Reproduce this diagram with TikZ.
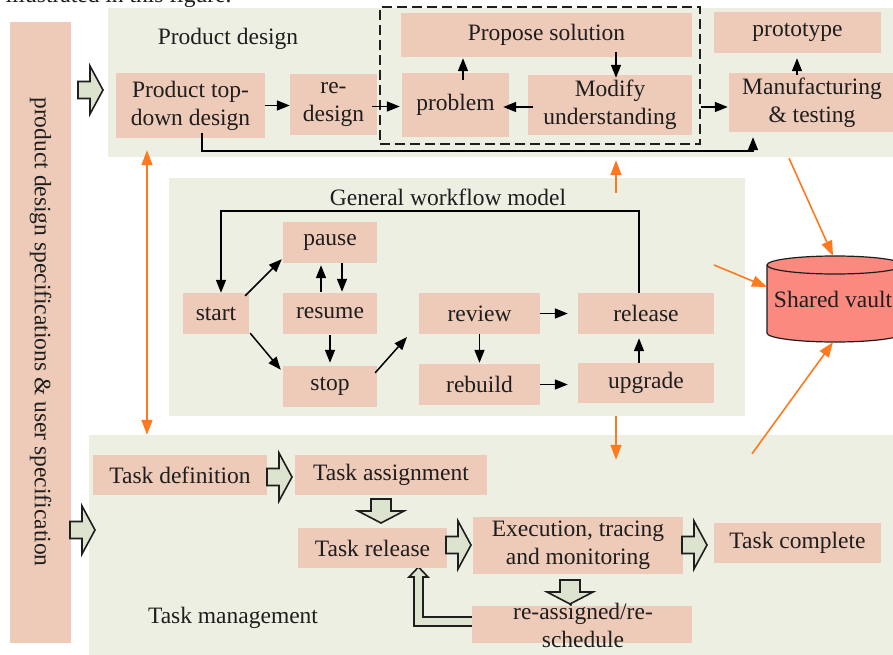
\documentclass[tikz,border=0pt]{standalone}
\usepackage{fontspec}
\setmainfont{Liberation Serif}
\usetikzlibrary{arrows.meta,calc}
\definecolor{panelc}{RGB}{237,239,227}
\definecolor{pinkc}{RGB}{238,202,184}
\definecolor{blkc}{RGB}{220,227,206}
\definecolor{orc}{RGB}{255,122,30}
\definecolor{vaultc}{RGB}{250,138,128}
\definecolor{inkc}{RGB}{30,30,30}
\begin{document}
\begin{tikzpicture}[x=1pt,y=-1pt,
  every node/.style={font=\fontsize{23.5}{28}\selectfont, text=inkc},
  panel/.style={fill=panelc, inner sep=0pt},
  pbox/.style={fill=pinkc, inner sep=0pt, align=center},
  box/.style 2 args={pbox, minimum width=#1pt, minimum height=#2pt},
  arr/.style={draw=black, line width=1.5pt, -{Triangle[length=13pt,width=10pt]}},
  oline/.style={draw=orc, line width=1.6pt},
  oarr/.style={oline, -{Triangle[length=15pt,width=11pt]}},
  blk/.style={fill=blkc, draw=inkc, line width=1.6pt, line join=miter},
  rblk/.pic={\path[blk] (0,-8.5) -- (12,-8.5) -- (12,-24) -- (25,0) -- (12,24) -- (12,8.5) -- (0,8.5) -- cycle;},
  dblk/.pic={\path[blk] (-10,0) -- (-10,12) -- (-23,12) -- (0,24) -- (23,12) -- (10,12) -- (10,0) -- cycle;}
]
\useasboundingbox (0,0) rectangle (893,655);
\fill[white] (0,0) rectangle (893,655);

% caption remnant at the top
\node[anchor=base west] (caption) at (2,2.5) {illustrated in this figure.};

% panels
\node[panel, minimum width=792pt, minimum height=149pt] (pdpanel) at (504,82.5) {};
\node[panel, minimum width=576pt, minimum height=238pt] (wfpanel) at (457,297) {};
\node[panel, minimum width=811pt, minimum height=225pt] (tmpanel) at (494.5,547.5) {};

% left specification bar
\node[box={61}{621}] (bar) at (40.5,332.5) {};
\node[rotate=-90] (bartext) at (40.5,332) {product design specifications \& user specification};

% ---------- Product design ----------
\node[anchor=base] (pdlabel) at (228,45) {Product design};
\node[box={149}{65}] (topdown) at (190.5,105.5) {Product top-\\down design};
\node[box={87}{61}] (redesign) at (333.5,104.5) {re-\\design};
\node[box={291}{44}] (propose) at (546.5,35) {Propose solution};
\node[box={107}{64}] (problem) at (455.5,105) {problem};
\node[box={164}{60}] (modify) at (610,105) {Modify\\understanding};
\node[box={167}{41}] (proto) at (797.5,32.5) {prototype};
\node[box={166}{59}] (manuf) at (812,102.5) {Manufacturing\\\& testing};
\node[draw=inkc, line width=2pt, dash pattern=on 10pt off 5pt, minimum width=320pt, minimum height=137pt, inner sep=0pt] (dashbox) at (540,75.5) {};

\draw[arr] (topdown.east) -- (redesign.west |- topdown.east);
\draw[arr] ($(redesign.east)+(-5,2)$) -- ($(problem.west |- redesign.east)+(-2,2)$);
\draw[arr] ($(problem.north)+(7.5,7)$) -- ($(propose.south -| problem.north)+(7.5,1)$);
\draw[arr] ($(modify.north)+(6,-23)$) -- ($(modify.north)+(6,3)$);
\draw[arr] ($(modify.west)+(5,2)$) -- ($(problem.east)+(-6,2)$);
\draw[arr] ($(dashbox.east |- problem.east)+(0,2)$) -- ($(manuf.west |- problem.east)+(-1,2)$);
\draw[arr] ($(manuf.north)+(-15,2)$) -- ($(proto.south)+(-0.5,5)$);
\draw[arr] ($(topdown.south)+(11.5,-5)$) |- ($(manuf.south)+(-59,19)$) -- ($(manuf.south)+(-59,5)$);

% ---------- General workflow model ----------
\node[anchor=base] (wflabel) at (448,205) {General workflow model};
\node[box={66}{41}] (start) at (216,313.5) {start};
\node[box={94}{41}] (pause) at (330,242.5) {pause};
\node[box={94}{41}] (resume) at (330,313.5) {resume};
\node[box={94}{41}] (stop) at (330,386.5) {stop};
\node[box={121}{41}] (review) at (479.5,313.5) {review};
\node[box={121}{41}] (rebuild) at (479.5,384.5) {rebuild};
\node[box={136}{41}] (release) at (646,313.5) {release};
\node[box={136}{40}] (upgrade) at (646,383) {upgrade};
\coordinate (stopend) at (407,337);

\draw[arr] ($(start.north east)+(-4,3)$) -- ($(pause.south west)+(-1,-4)$);
\draw[arr] ($(start.south east)+(1,-1)$) -- ($(stop.north west)+(-2,4)$);
\draw[arr] ($(resume.north)+(-9,-1)$) -- ($(pause.south)+(-9,2)$);
\draw[arr] ($(pause.south)+(12,0)$) -- ($(resume.north)+(12,-1)$);
\draw[arr] ($(resume.south)+(0,1)$) -- ($(stop.north)+(0,-3)$);
\draw[arr] ($(stop.north east)+(-2,7)$) -- (stopend);
\draw[arr] (review.south) -- ($(rebuild.north)+(0,-1)$);
\draw[arr] (review.east) -- ($(release.west)+(-10,0)$);
\draw[arr] (rebuild.east) -- ($(upgrade.west |- rebuild.east)+(-10,0)$);
\draw[arr] ($(upgrade.north)+(-7,0)$) -- ($(release.south)+(-7,4)$);
\draw[arr] ($(release.north)+(-7,0)$) |- ($(start.north)+(5,-82)$) -- ($(start.north)+(5,0)$);

% ---------- Shared vault ----------
\filldraw[fill=vaultc, draw=inkc, line width=1.2pt]
  (767,265) -- (767,333) .. controls (767,338) and (797.4,342) .. (835,342)
  .. controls (872.6,342) and (903,338) .. (903,333) -- (903,265)
  .. controls (903,260) and (872.6,256) .. (835,256)
  .. controls (797.4,256) and (767,260) .. (767,265) -- cycle;
\draw[draw=inkc, line width=1.2pt] (767,265) .. controls (767,270) and (797.4,274) .. (835,274)
  .. controls (872.6,274) and (903,270) .. (903,265);
\node[minimum width=136pt, minimum height=86pt, inner sep=0pt] (vault) at (833,299) {Shared vault};
\coordinate (vaultleft) at (767,287);
\coordinate (wfout) at (714,265);

% ---------- Task management ----------
\draw[blk] (472,617) -- (423,617) -- (423,577) -- (428,577) -- (418.5,567) -- (409,577) -- (414,577) -- (414,626) -- (472,626);
\node[anchor=base] (tmlabel) at (233,623) {Task management};
\node[box={174}{40}] (taskdef) at (180,475) {Task definition};
\node[box={192}{40}] (taskassign) at (391,475) {Task assignment};
\node[box={149}{40}] (taskrel) at (372.5,548) {Task release};
\node[box={210}{57}] (exec) at (578,545.5) {Execution, tracing\\and monitoring};
\node[box={167}{40}] (complete) at (797.5,543) {Task complete};
\node[box={220}{37}] (reassignbox) at (582,624.5) {};
\node[align=center, inner sep=0pt] (reassign) at (583,625) {re-assigned/re-\\schedule};

% block arrows
\pic at (78,90) {rblk};
\pic at (70,530) {rblk};
\pic at (267,477) {rblk};
\pic at (381,499) {dblk};
\pic at (446,545) {rblk};
\pic at (682,545) {rblk};
\pic at (570,580) {dblk};

% ---------- orange links ----------
\draw[oline, {Triangle[length=15pt,width=11pt]}-{Triangle[length=15pt,width=11pt]}]
  ($(pdpanel.south -| topdown.south)+(-43.5,-7)$) -- ($(tmpanel.north -| topdown.south)+(-43.5,0)$);
\draw[oarr] ($(wfpanel.north)+(159,15)$) -- ($(pdpanel.south -| wfpanel.north)+(159,3)$);
\draw[oarr] ($(wfpanel.south)+(159,0)$) -- ($(tmpanel.north -| wfpanel.south)+(159,25)$);
\draw[oarr] ($(pdpanel.south)+(285,1)$) -- (vault.north);
\draw[oarr] (wfout) -- (vaultleft);
\draw[oarr] ($(tmpanel.north)+(257.5,19)$) -- (vault.south);
\end{tikzpicture}
\end{document}
